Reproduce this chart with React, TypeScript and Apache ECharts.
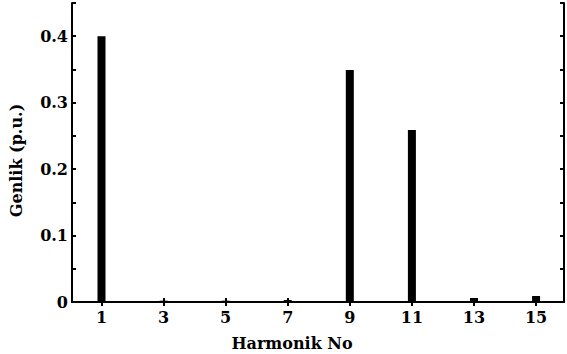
import React, { useEffect, useRef } from "react";
import * as echarts from "echarts";

const harmonics = [1, 3, 5, 7, 9, 11, 13, 15];
const amplitudes = [0.4, 0.002, 0.002, 0.003, 0.349, 0.259, 0.006, 0.009];
const xTickValues = [1, 3, 5, 7, 9, 11, 13, 15];
const yLabelValues = [0, 0.1, 0.2, 0.3, 0.4];
const yTickValues = [0, 0.05, 0.1, 0.15, 0.2, 0.25, 0.3, 0.35, 0.4, 0.45];

const FONT = "'DejaVu Serif', 'Liberation Serif', serif";

export default function App() {
  const ref = useRef<HTMLDivElement>(null);
  useEffect(() => {
    if (!ref.current) return;
    const chart = echarts.init(ref.current, null, { renderer: "svg" });
    const line = { show: true, lineStyle: { color: "#000", width: 2 } };
    const labelStyle = {
      color: "#000",
      fontFamily: FONT,
      fontWeight: "bold" as const,
      fontSize: 16,
    };
    const tick = { show: true, inside: true, length: 4, lineStyle: { color: "#000", width: 2 } };
    chart.setOption({
      animation: false,
      backgroundColor: "#fff",
      grid: { left: 72, right: 3, top: 3, bottom: 52, outerBoundsMode: "none", containLabel: false },
      xAxis: [
        {
          type: "value",
          position: "bottom",
          min: 0.05,
          max: 15.9,
          axisLine: line,
          axisTick: { ...tick, customValues: xTickValues },
          axisLabel: { ...labelStyle, customValues: xTickValues, margin: 7 },
          splitLine: { show: false },
          name: "Harmonik No",
          nameLocation: "middle",
          nameGap: 33,
          nameTextStyle: { ...labelStyle, fontSize: 16, padding: [0, 52, 0, 0] },
        },
        {
          type: "value",
          position: "top",
          min: 0.05,
          max: 15.9,
          axisLine: line,
          axisTick: { ...tick, customValues: xTickValues },
          axisLabel: { show: false },
          splitLine: { show: false },
        },
      ],
      yAxis: [
        {
          type: "value",
          position: "left",
          min: 0,
          max: 0.45,
          axisLine: line,
          axisTick: { ...tick, customValues: yTickValues },
          axisLabel: { ...labelStyle, customValues: yLabelValues, margin: 4 },
          splitLine: { show: false },
          name: "Genlik (p.u.)",
          nameLocation: "middle",
          nameGap: 48,
          nameTextStyle: { ...labelStyle, fontSize: 16, padding: [0, 16, 0, 0] },
        },
        {
          type: "value",
          position: "right",
          min: 0,
          max: 0.45,
          axisLine: line,
          axisTick: { ...tick, customValues: yTickValues },
          axisLabel: { show: false },
          splitLine: { show: false },
        },
      ],
      series: [
        {
          type: "bar",
          xAxisIndex: 0,
          yAxisIndex: 0,
          barWidth: 8,
          itemStyle: { color: "#000" },
          data: harmonics.map((h, i) => [h, amplitudes[i]]),
        },
      ],
    });
    return () => chart.dispose();
  }, []);
  return <div ref={ref} style={{ width: 567, height: 354, position: "absolute", left: 0, top: 0 }} />;
}
